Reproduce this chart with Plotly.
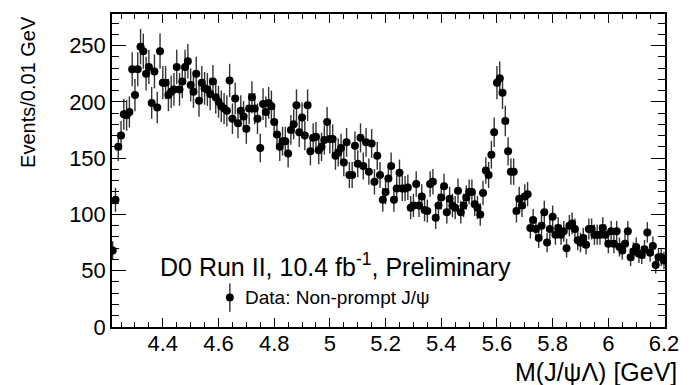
import numpy as np
import plotly.graph_objects as go

# J/psi Lambda invariant mass spectrum, 0.01 GeV bins starting at 4.22 GeV
bin_start = 4.22
bin_width = 0.01
counts = [
    68, 113, 160, 170, 189, 188, 191, 229, 206, 229,
    249, 245, 225, 231, 199, 227, 195, 245, 217, 217,
    206, 209, 211, 231, 211, 218, 231, 236, 215, 209,
    225, 201, 217, 212, 211, 207, 218, 204, 200, 196,
    194, 192, 219, 185, 203, 181, 192, 187, 176, 194,
    204, 194, 185, 159, 198, 191, 199, 196, 182, 171,
    160, 165, 165, 154, 175, 180, 197, 173, 186, 170,
    197, 156, 168, 169, 157, 160, 166, 182, 167, 167,
    152, 155, 159, 146, 164, 135, 135, 161, 145, 168,
    143, 164, 138, 163, 129, 152, 135, 113, 120, 132,
    143, 113, 123, 137, 123, 123, 124, 106, 108, 127,
    108, 116, 104, 103, 127, 129, 97, 108, 115, 125,
    102, 114, 108, 106, 121, 102, 108, 115, 120, 120,
    109, 106, 100, 119, 139, 135, 153, 173, 217, 221,
    208, 183, 156, 138, 138, 103, 114, 108, 116, 118,
    88, 95, 87, 79, 90, 102, 75, 87, 98, 82,
    88, 82, 85, 70, 90, 92, 87, 77, 75, 79,
    73, 87, 87, 82, 82, 82, 88, 82, 74, 85,
    74, 85, 71, 68, 74, 85, 62, 67, 71, 65,
    64, 69, 84, 66, 72, 55, 62, 62, 59,
]

x_tick_vals = [4.4, 4.6, 4.8, 5.0, 5.2, 5.4, 5.6, 5.8, 6.0, 6.2]
x_tick_text = ["4.4", "4.6", "4.8", "5", "5.2", "5.4", "5.6", "5.8", "6", "6.2"]
y_tick_vals = [0, 50, 100, 150, 200, 250]

counts = np.array(counts, dtype=float)
mass = np.round(bin_start + bin_width * np.arange(len(counts)), 3)
errors = np.sqrt(counts)  # Poisson uncertainties

FONT = "Liberation Sans, Arial, Helvetica, sans-serif"

fig = go.Figure()
fig.add_trace(go.Scatter(
    x=mass, y=counts, mode="markers",
    marker=dict(symbol="circle", size=8, color="black"),
    error_y=dict(type="data", array=errors, visible=True,
                 color="#333333", thickness=1.4, width=0),
    showlegend=False, hoverinfo="x+y",
))

axis_common = dict(
    showline=True, linecolor="black", linewidth=1.5, mirror="allticks",
    ticks="inside", tickcolor="black", showgrid=False, zeroline=False,
    tickfont=dict(family=FONT, size=22, color="black"),
)

fig.update_xaxes(
    range=[4.2175, 6.2035],
    tickvals=x_tick_vals, ticktext=x_tick_text,
    ticklen=9, tickwidth=1.2, ticklabelstandoff=-4,
    minor=dict(dtick=0.05, tick0=4.4, ticks="inside", ticklen=5,
               tickcolor="black", tickwidth=1),
    **axis_common,
)
fig.update_yaxes(
    range=[0, 278],
    tickvals=y_tick_vals,
    ticklen=14, tickwidth=1.2,
    minor=dict(dtick=10, tick0=0, ticks="inside", ticklen=7,
               tickcolor="black", tickwidth=1),
    **axis_common,
)

annotations = [
    dict(text="Events/0.01 GeV", textangle=-90, xref="paper", yref="paper",
         x=-0.152, y=1.0, xanchor="center", yanchor="top", showarrow=False,
         font=dict(family=FONT, size=20, color="black")),
    dict(text="M(J/\u03c8\u039b) [GeV]", xref="paper", yref="paper",
         x=1.026, y=-0.144, xanchor="right", yanchor="middle", showarrow=False,
         font=dict(family=FONT, size=25, color="black")),
    dict(text="D0 Run II, 10.4 fb<sup>-1</sup>, Preliminary",
         xref="paper", yref="paper", x=0.083, y=0.199,
         xanchor="left", yanchor="middle", showarrow=False,
         font=dict(family=FONT, size=25, color="black")),
    dict(text="Data: Non-prompt J/\u03c8", xref="paper", yref="paper",
         x=0.236, y=0.094, xanchor="left", yanchor="middle", showarrow=False,
         font=dict(family=FONT, size=19, color="black")),
]

# legend key: marker with vertical error bar
key_x, key_y = 0.2131, 0.094
shapes = [
    dict(type="line", xref="paper", yref="paper",
         x0=key_x, x1=key_x, y0=key_y - 0.045, y1=key_y + 0.045,
         line=dict(color="#333333", width=1.4)),
    dict(type="circle", xref="paper", yref="paper",
         x0=key_x - 0.0071, x1=key_x + 0.0071,
         y0=key_y - 0.0127, y1=key_y + 0.0127,
         fillcolor="black", line=dict(color="black", width=0)),
]

fig.update_layout(
    width=691, height=385,
    margin=dict(l=112, r=16, t=12, b=58),
    paper_bgcolor="white", plot_bgcolor="white",
    annotations=annotations, shapes=shapes,
    font=dict(family=FONT, color="black"),
)

fig.write_html("out.html")
